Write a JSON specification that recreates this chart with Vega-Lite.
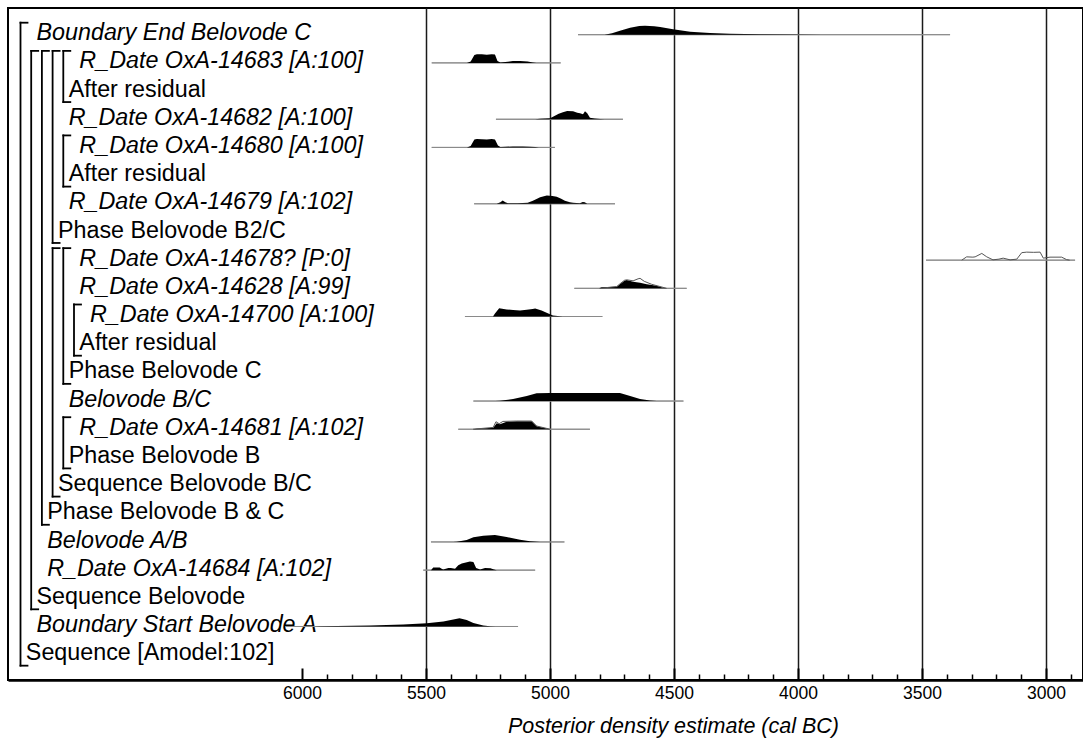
{
  "$schema": "https://vega.github.io/schema/vega-lite/v6.json",
  "width": 1075,
  "height": 672,
  "autosize": {"type": "none"},
  "padding": {"left": 8, "top": 8, "right": 0, "bottom": 62},
  "background": "white",
  "config": {"view": {"stroke": "black", "strokeWidth": 2}, "font": "Liberation Sans"},
  "datasets": {
    "labels": [
      {"n": 1, "t": 1, "label": "Boundary End Belovode C", "kind": "Boundary"},
      {"n": 2, "t": 5, "label": "R_Date OxA-14683 [A:100]", "kind": "R_Date"},
      {"n": 3, "t": 4, "label": "After residual", "kind": "After"},
      {"n": 4, "t": 4, "label": "R_Date OxA-14682 [A:100]", "kind": "R_Date"},
      {"n": 5, "t": 5, "label": "R_Date OxA-14680 [A:100]", "kind": "R_Date"},
      {"n": 6, "t": 4, "label": "After residual", "kind": "After"},
      {"n": 7, "t": 4, "label": "R_Date OxA-14679 [A:102]", "kind": "R_Date"},
      {"n": 8, "t": 3, "label": "Phase Belovode B2/C", "kind": "Phase"},
      {"n": 9, "t": 5, "label": "R_Date OxA-14678? [P:0]", "kind": "R_Date"},
      {"n": 10, "t": 5, "label": "R_Date OxA-14628 [A:99]", "kind": "R_Date"},
      {"n": 11, "t": 6, "label": "R_Date OxA-14700 [A:100]", "kind": "R_Date"},
      {"n": 12, "t": 5, "label": "After residual", "kind": "After"},
      {"n": 13, "t": 4, "label": "Phase Belovode C", "kind": "Phase"},
      {"n": 14, "t": 4, "label": "Belovode B/C", "kind": "Boundary"},
      {"n": 15, "t": 5, "label": "R_Date OxA-14681 [A:102]", "kind": "R_Date"},
      {"n": 16, "t": 4, "label": "Phase Belovode B", "kind": "Phase"},
      {"n": 17, "t": 3, "label": "Sequence Belovode B/C", "kind": "Sequence"},
      {"n": 18, "t": 2, "label": "Phase Belovode B & C", "kind": "Phase"},
      {"n": 19, "t": 2, "label": "Belovode A/B", "kind": "Boundary"},
      {"n": 20, "t": 2, "label": "R_Date OxA-14684 [A:102]", "kind": "R_Date"},
      {"n": 21, "t": 1, "label": "Sequence Belovode", "kind": "Sequence"},
      {"n": 22, "t": 1, "label": "Boundary Start Belovode A", "kind": "Boundary"},
      {"n": 23, "t": 0, "label": "Sequence [Amodel:102]", "kind": "Sequence"}
    ],
    "brackets": [
      {"L": 0, "first": 1, "last": 23},
      {"L": 1, "first": 2, "last": 21},
      {"L": 2, "first": 2, "last": 18},
      {"L": 3, "first": 2, "last": 8},
      {"L": 4, "first": 2, "last": 3},
      {"L": 4, "first": 5, "last": 6},
      {"L": 3, "first": 9, "last": 17},
      {"L": 4, "first": 9, "last": 13},
      {"L": 5, "first": 11, "last": 12},
      {"L": 4, "first": 15, "last": 16}
    ],
    "ranges": [
      {"n": 1, "from": 4887, "to": 3387},
      {"n": 2, "from": 5477, "to": 4957},
      {"n": 4, "from": 5218, "to": 4706},
      {"n": 5, "from": 5477, "to": 4980},
      {"n": 7, "from": 5306, "to": 4738},
      {"n": 9, "from": 3484, "to": 2883},
      {"n": 10, "from": 4902, "to": 4449},
      {"n": 11, "from": 5343, "to": 4789},
      {"n": 14, "from": 5309, "to": 4462},
      {"n": 15, "from": 5370, "to": 4839},
      {"n": 19, "from": 5480, "to": 4942},
      {"n": 20, "from": 5511, "to": 5060},
      {"n": 22, "from": 6065, "to": 5129}
    ],
    "post": [
      {"id": "E", "n": 1, "yr": 4780, "top": 1},
      {"id": "E", "n": 1, "yr": 4750, "top": 0.947},
      {"id": "E", "n": 1, "yr": 4718, "top": 0.858},
      {"id": "E", "n": 1, "yr": 4677, "top": 0.752},
      {"id": "E", "n": 1, "yr": 4640, "top": 0.691},
      {"id": "E", "n": 1, "yr": 4617, "top": 0.681},
      {"id": "E", "n": 1, "yr": 4580, "top": 0.698},
      {"id": "E", "n": 1, "yr": 4556, "top": 0.727},
      {"id": "E", "n": 1, "yr": 4504, "top": 0.805},
      {"id": "E", "n": 1, "yr": 4435, "top": 0.894},
      {"id": "E", "n": 1, "yr": 4355, "top": 0.936},
      {"id": "E", "n": 1, "yr": 4274, "top": 0.965},
      {"id": "E", "n": 1, "yr": 4153, "top": 0.986},
      {"id": "E", "n": 1, "yr": 3992, "top": 0.996},
      {"id": "E", "n": 1, "yr": 3900, "top": 1},
      {"id": "R83", "n": 2, "yr": 5335, "top": 2},
      {"id": "R83", "n": 2, "yr": 5320, "top": 1.947},
      {"id": "R83", "n": 2, "yr": 5305, "top": 1.716},
      {"id": "R83", "n": 2, "yr": 5295, "top": 1.691},
      {"id": "R83", "n": 2, "yr": 5275, "top": 1.698},
      {"id": "R83", "n": 2, "yr": 5255, "top": 1.709},
      {"id": "R83", "n": 2, "yr": 5235, "top": 1.698},
      {"id": "R83", "n": 2, "yr": 5222, "top": 1.705},
      {"id": "R83", "n": 2, "yr": 5212, "top": 1.929},
      {"id": "R83", "n": 2, "yr": 5200, "top": 1.989},
      {"id": "R83", "n": 2, "yr": 5180, "top": 1.972},
      {"id": "R83", "n": 2, "yr": 5150, "top": 1.936},
      {"id": "R83", "n": 2, "yr": 5120, "top": 1.929},
      {"id": "R83", "n": 2, "yr": 5090, "top": 1.947},
      {"id": "R83", "n": 2, "yr": 5070, "top": 1.986},
      {"id": "R83", "n": 2, "yr": 5055, "top": 2},
      {"id": "R82", "n": 4, "yr": 5060, "top": 4},
      {"id": "R82", "n": 4, "yr": 5040, "top": 3.982},
      {"id": "R82", "n": 4, "yr": 5000, "top": 3.965},
      {"id": "R82", "n": 4, "yr": 4988, "top": 3.911},
      {"id": "R82", "n": 4, "yr": 4965, "top": 3.805},
      {"id": "R82", "n": 4, "yr": 4948, "top": 3.752},
      {"id": "R82", "n": 4, "yr": 4931, "top": 3.705},
      {"id": "R82", "n": 4, "yr": 4907, "top": 3.716},
      {"id": "R82", "n": 4, "yr": 4890, "top": 3.769},
      {"id": "R82", "n": 4, "yr": 4879, "top": 3.787},
      {"id": "R82", "n": 4, "yr": 4867, "top": 3.823},
      {"id": "R82", "n": 4, "yr": 4859, "top": 3.716},
      {"id": "R82", "n": 4, "yr": 4850, "top": 3.787},
      {"id": "R82", "n": 4, "yr": 4839, "top": 3.947},
      {"id": "R82", "n": 4, "yr": 4820, "top": 3.972},
      {"id": "R82", "n": 4, "yr": 4798, "top": 3.989},
      {"id": "R82", "n": 4, "yr": 4780, "top": 4},
      {"id": "R80", "n": 5, "yr": 5335, "top": 5},
      {"id": "R80", "n": 5, "yr": 5320, "top": 4.947},
      {"id": "R80", "n": 5, "yr": 5305, "top": 4.716},
      {"id": "R80", "n": 5, "yr": 5295, "top": 4.705},
      {"id": "R80", "n": 5, "yr": 5275, "top": 4.709},
      {"id": "R80", "n": 5, "yr": 5255, "top": 4.716},
      {"id": "R80", "n": 5, "yr": 5235, "top": 4.705},
      {"id": "R80", "n": 5, "yr": 5222, "top": 4.716},
      {"id": "R80", "n": 5, "yr": 5210, "top": 4.929},
      {"id": "R80", "n": 5, "yr": 5200, "top": 4.989},
      {"id": "R80", "n": 5, "yr": 5180, "top": 4.979},
      {"id": "R80", "n": 5, "yr": 5150, "top": 4.965},
      {"id": "R80", "n": 5, "yr": 5110, "top": 4.965},
      {"id": "R80", "n": 5, "yr": 5080, "top": 4.972},
      {"id": "R80", "n": 5, "yr": 5060, "top": 4.989},
      {"id": "R80", "n": 5, "yr": 5045, "top": 5},
      {"id": "R79", "n": 7, "yr": 5215, "top": 7},
      {"id": "R79", "n": 7, "yr": 5200, "top": 6.947},
      {"id": "R79", "n": 7, "yr": 5191, "top": 6.883},
      {"id": "R79", "n": 7, "yr": 5180, "top": 6.947},
      {"id": "R79", "n": 7, "yr": 5170, "top": 6.982},
      {"id": "R79", "n": 7, "yr": 5130, "top": 6.982},
      {"id": "R79", "n": 7, "yr": 5090, "top": 6.965},
      {"id": "R79", "n": 7, "yr": 5069, "top": 6.894},
      {"id": "R79", "n": 7, "yr": 5040, "top": 6.769},
      {"id": "R79", "n": 7, "yr": 5013, "top": 6.705},
      {"id": "R79", "n": 7, "yr": 4990, "top": 6.723},
      {"id": "R79", "n": 7, "yr": 4973, "top": 6.752},
      {"id": "R79", "n": 7, "yr": 4955, "top": 6.823},
      {"id": "R79", "n": 7, "yr": 4940, "top": 6.894},
      {"id": "R79", "n": 7, "yr": 4920, "top": 6.947},
      {"id": "R79", "n": 7, "yr": 4907, "top": 6.965},
      {"id": "R79", "n": 7, "yr": 4880, "top": 6.982},
      {"id": "R79", "n": 7, "yr": 4868, "top": 6.936},
      {"id": "R79", "n": 7, "yr": 4860, "top": 6.947},
      {"id": "R79", "n": 7, "yr": 4850, "top": 7},
      {"id": "R28", "n": 10, "yr": 4800, "top": 10},
      {"id": "R28", "n": 10, "yr": 4792, "top": 9.965},
      {"id": "R28", "n": 10, "yr": 4731, "top": 9.947},
      {"id": "R28", "n": 10, "yr": 4718, "top": 9.858},
      {"id": "R28", "n": 10, "yr": 4700, "top": 9.734},
      {"id": "R28", "n": 10, "yr": 4691, "top": 9.705},
      {"id": "R28", "n": 10, "yr": 4665, "top": 9.769},
      {"id": "R28", "n": 10, "yr": 4637, "top": 9.805},
      {"id": "R28", "n": 10, "yr": 4610, "top": 9.858},
      {"id": "R28", "n": 10, "yr": 4570, "top": 9.911},
      {"id": "R28", "n": 10, "yr": 4544, "top": 9.982},
      {"id": "R28", "n": 10, "yr": 4530, "top": 10},
      {"id": "R00", "n": 11, "yr": 5230, "top": 11},
      {"id": "R00", "n": 11, "yr": 5222, "top": 10.894},
      {"id": "R00", "n": 11, "yr": 5205, "top": 10.705},
      {"id": "R00", "n": 11, "yr": 5175, "top": 10.752},
      {"id": "R00", "n": 11, "yr": 5149, "top": 10.769},
      {"id": "R00", "n": 11, "yr": 5121, "top": 10.787},
      {"id": "R00", "n": 11, "yr": 5094, "top": 10.762},
      {"id": "R00", "n": 11, "yr": 5070, "top": 10.734},
      {"id": "R00", "n": 11, "yr": 5060, "top": 10.716},
      {"id": "R00", "n": 11, "yr": 5034, "top": 10.787},
      {"id": "R00", "n": 11, "yr": 5007, "top": 10.894},
      {"id": "R00", "n": 11, "yr": 4988, "top": 10.965},
      {"id": "R00", "n": 11, "yr": 4960, "top": 10.989},
      {"id": "R00", "n": 11, "yr": 4948, "top": 11},
      {"id": "BC", "n": 14, "yr": 5220, "top": 14},
      {"id": "BC", "n": 14, "yr": 5202, "top": 13.989},
      {"id": "BC", "n": 14, "yr": 5149, "top": 13.929},
      {"id": "BC", "n": 14, "yr": 5094, "top": 13.823},
      {"id": "BC", "n": 14, "yr": 5054, "top": 13.727},
      {"id": "BC", "n": 14, "yr": 5000, "top": 13.716},
      {"id": "BC", "n": 14, "yr": 4850, "top": 13.716},
      {"id": "BC", "n": 14, "yr": 4718, "top": 13.716},
      {"id": "BC", "n": 14, "yr": 4677, "top": 13.823},
      {"id": "BC", "n": 14, "yr": 4637, "top": 13.929},
      {"id": "BC", "n": 14, "yr": 4597, "top": 13.982},
      {"id": "BC", "n": 14, "yr": 4570, "top": 14},
      {"id": "R81", "n": 15, "yr": 5310, "top": 15},
      {"id": "R81", "n": 15, "yr": 5296, "top": 14.982},
      {"id": "R81", "n": 15, "yr": 5229, "top": 14.947},
      {"id": "R81", "n": 15, "yr": 5215, "top": 14.787},
      {"id": "R81", "n": 15, "yr": 5202, "top": 14.823},
      {"id": "R81", "n": 15, "yr": 5175, "top": 14.734},
      {"id": "R81", "n": 15, "yr": 5134, "top": 14.716},
      {"id": "R81", "n": 15, "yr": 5074, "top": 14.716},
      {"id": "R81", "n": 15, "yr": 5054, "top": 14.894},
      {"id": "R81", "n": 15, "yr": 5013, "top": 14.975},
      {"id": "R81", "n": 15, "yr": 5000, "top": 15},
      {"id": "AB", "n": 19, "yr": 5390, "top": 19},
      {"id": "AB", "n": 19, "yr": 5376, "top": 18.989},
      {"id": "AB", "n": 19, "yr": 5336, "top": 18.929},
      {"id": "AB", "n": 19, "yr": 5309, "top": 18.833},
      {"id": "AB", "n": 19, "yr": 5269, "top": 18.776},
      {"id": "AB", "n": 19, "yr": 5222, "top": 18.752},
      {"id": "AB", "n": 19, "yr": 5175, "top": 18.823},
      {"id": "AB", "n": 19, "yr": 5121, "top": 18.918},
      {"id": "AB", "n": 19, "yr": 5081, "top": 18.975},
      {"id": "AB", "n": 19, "yr": 5054, "top": 18.993},
      {"id": "AB", "n": 19, "yr": 5040, "top": 19},
      {"id": "R84", "n": 20, "yr": 5480, "top": 20},
      {"id": "R84", "n": 20, "yr": 5471, "top": 19.904},
      {"id": "R84", "n": 20, "yr": 5445, "top": 19.904},
      {"id": "R84", "n": 20, "yr": 5437, "top": 19.947},
      {"id": "R84", "n": 20, "yr": 5431, "top": 19.975},
      {"id": "R84", "n": 20, "yr": 5420, "top": 19.947},
      {"id": "R84", "n": 20, "yr": 5410, "top": 19.929},
      {"id": "R84", "n": 20, "yr": 5400, "top": 19.929},
      {"id": "R84", "n": 20, "yr": 5383, "top": 19.947},
      {"id": "R84", "n": 20, "yr": 5370, "top": 19.823},
      {"id": "R84", "n": 20, "yr": 5356, "top": 19.762},
      {"id": "R84", "n": 20, "yr": 5323, "top": 19.691},
      {"id": "R84", "n": 20, "yr": 5309, "top": 19.716},
      {"id": "R84", "n": 20, "yr": 5298, "top": 19.929},
      {"id": "R84", "n": 20, "yr": 5282, "top": 19.975},
      {"id": "R84", "n": 20, "yr": 5262, "top": 19.929},
      {"id": "R84", "n": 20, "yr": 5240, "top": 19.936},
      {"id": "R84", "n": 20, "yr": 5229, "top": 19.965},
      {"id": "R84", "n": 20, "yr": 5215, "top": 20},
      {"id": "S", "n": 22, "yr": 5950, "top": 22},
      {"id": "S", "n": 22, "yr": 5927, "top": 21.989},
      {"id": "S", "n": 22, "yr": 5726, "top": 21.965},
      {"id": "S", "n": 22, "yr": 5592, "top": 21.929},
      {"id": "S", "n": 22, "yr": 5497, "top": 21.883},
      {"id": "S", "n": 22, "yr": 5430, "top": 21.823},
      {"id": "S", "n": 22, "yr": 5390, "top": 21.752},
      {"id": "S", "n": 22, "yr": 5365, "top": 21.705},
      {"id": "S", "n": 22, "yr": 5336, "top": 21.769},
      {"id": "S", "n": 22, "yr": 5309, "top": 21.876},
      {"id": "S", "n": 22, "yr": 5269, "top": 21.965},
      {"id": "S", "n": 22, "yr": 5242, "top": 21.989},
      {"id": "S", "n": 22, "yr": 5220, "top": 22}
    ],
    "lik": [
      {"id": "R78", "n": 9, "yr": 3340, "top": 9},
      {"id": "R78", "n": 9, "yr": 3320, "top": 8.883},
      {"id": "R78", "n": 9, "yr": 3295, "top": 8.894},
      {"id": "R78", "n": 9, "yr": 3286, "top": 8.883},
      {"id": "R78", "n": 9, "yr": 3259, "top": 8.762},
      {"id": "R78", "n": 9, "yr": 3239, "top": 8.883},
      {"id": "R78", "n": 9, "yr": 3214, "top": 8.989},
      {"id": "R78", "n": 9, "yr": 3190, "top": 8.965},
      {"id": "R78", "n": 9, "yr": 3173, "top": 8.929},
      {"id": "R78", "n": 9, "yr": 3145, "top": 8.989},
      {"id": "R78", "n": 9, "yr": 3118, "top": 8.965},
      {"id": "R78", "n": 9, "yr": 3098, "top": 8.734},
      {"id": "R78", "n": 9, "yr": 3078, "top": 8.716},
      {"id": "R78", "n": 9, "yr": 3050, "top": 8.723},
      {"id": "R78", "n": 9, "yr": 3024, "top": 8.716},
      {"id": "R78", "n": 9, "yr": 3011, "top": 8.929},
      {"id": "R78", "n": 9, "yr": 2984, "top": 8.894},
      {"id": "R78", "n": 9, "yr": 2937, "top": 8.894},
      {"id": "R78", "n": 9, "yr": 2917, "top": 8.982},
      {"id": "R78", "n": 9, "yr": 2905, "top": 9},
      {"id": "R28", "n": 10, "yr": 4800, "top": 10},
      {"id": "R28", "n": 10, "yr": 4731, "top": 9.936},
      {"id": "R28", "n": 10, "yr": 4718, "top": 9.84},
      {"id": "R28", "n": 10, "yr": 4700, "top": 9.716},
      {"id": "R28", "n": 10, "yr": 4691, "top": 9.698},
      {"id": "R28", "n": 10, "yr": 4665, "top": 9.734},
      {"id": "R28", "n": 10, "yr": 4645, "top": 9.663},
      {"id": "R28", "n": 10, "yr": 4637, "top": 9.645},
      {"id": "R28", "n": 10, "yr": 4620, "top": 9.752},
      {"id": "R28", "n": 10, "yr": 4590, "top": 9.858},
      {"id": "R28", "n": 10, "yr": 4560, "top": 9.929},
      {"id": "R28", "n": 10, "yr": 4530, "top": 10},
      {"id": "R81", "n": 15, "yr": 5310, "top": 15},
      {"id": "R81", "n": 15, "yr": 5229, "top": 14.936},
      {"id": "R81", "n": 15, "yr": 5218, "top": 14.734},
      {"id": "R81", "n": 15, "yr": 5205, "top": 14.805},
      {"id": "R81", "n": 15, "yr": 5190, "top": 14.723},
      {"id": "R81", "n": 15, "yr": 5134, "top": 14.709},
      {"id": "R81", "n": 15, "yr": 5074, "top": 14.709},
      {"id": "R81", "n": 15, "yr": 5054, "top": 14.886},
      {"id": "R81", "n": 15, "yr": 5013, "top": 14.972},
      {"id": "R81", "n": 15, "yr": 5000, "top": 15}
    ]
  },
  "resolve": {"scale": {"x": "independent"}},
  "layer": [
    {
      "data": {"name": "ranges"},
      "mark": {"type": "rule", "color": "#8a8a8a", "strokeWidth": 1},
      "encoding": {
        "x": {
          "field": "from", "type": "quantitative",
          "scale": {"domain": [2851, 7185.5], "reverse": true, "nice": false, "zero": false},
          "axis": {
            "orient": "bottom",
            "values": [6000, 5500, 5000, 4500, 4000, 3500, 3000],
            "format": "d",
            "grid": true,
            "gridColor": "#1a1a1a",
            "gridWidth": 1.5,
            "gridOpacity": {"condition": {"test": "datum.value == 6000", "value": 0}, "value": 1},
            "domain": true,
            "domainColor": "black",
            "domainWidth": 2.5,
            "ticks": true,
            "tickSize": -12,
            "tickColor": "black",
            "tickWidth": 2,
            "labelFont": "Liberation Sans",
            "labelFontSize": 17.5,
            "labelColor": "black",
            "labelPadding": 16,
            "labelFlush": false,
            "labelOverlap": false,
            "title": "Posterior density estimate (cal BC)",
            "titleFont": "Liberation Sans",
            "titleFontSize": 21.5,
            "titleFontStyle": "italic",
            "titleFontWeight": "normal",
            "titleColor": "black",
            "titleAlign": "center",
            "titleBaseline": "alphabetic",
            "titleX": 665,
            "titleY": 52
          }
        },
        "x2": {"field": "to"},
        "y": {"field": "n", "type": "quantitative", "scale": {"domain": [0.0525, 23.899], "reverse": true, "nice": false, "zero": false}, "axis": null}
      }
    },
    {
      "data": {"name": "labels"},
      "transform": [{"filter": "datum.kind == 'R_Date' || datum.kind == 'Boundary'"}],
      "mark": {"type": "text", "align": "left", "baseline": "alphabetic", "dx": 5.35, "dy": 5.6, "fontSize": 23.3, "fontStyle": "italic", "font": "Liberation Sans", "color": "black"},
      "encoding": {
        "x": {"field": "t", "type": "quantitative", "scale": {"domain": [-1.1682, 99.299], "nice": false, "zero": false}, "axis": null},
        "y": {"field": "n", "type": "quantitative", "scale": {"domain": [0.0525, 23.899], "reverse": true, "nice": false, "zero": false}, "axis": null},
        "text": {"field": "label"}
      }
    },
    {
      "data": {"name": "labels"},
      "transform": [{"filter": "datum.kind != 'R_Date' && datum.kind != 'Boundary'"}],
      "mark": {"type": "text", "align": "left", "baseline": "alphabetic", "dx": 5.35, "dy": 5.6, "fontSize": 23.3, "fontStyle": "normal", "font": "Liberation Sans", "color": "black"},
      "encoding": {
        "x": {"field": "t", "type": "quantitative", "scale": {"domain": [-1.1682, 99.299], "nice": false, "zero": false}, "axis": null},
        "y": {"field": "n", "type": "quantitative", "scale": {"domain": [0.0525, 23.899], "reverse": true, "nice": false, "zero": false}, "axis": null},
        "text": {"field": "label"}
      }
    },
    {
      "data": {"name": "brackets"},
      "mark": {"type": "rule", "color": "black", "strokeWidth": 1.8, "strokeCap": "square", "yOffset": -12, "y2Offset": 11},
      "encoding": {
        "x": {"field": "L", "type": "quantitative", "scale": {"domain": [-1.1682, 99.299], "nice": false, "zero": false}, "axis": null},
        "y": {"field": "first", "type": "quantitative", "scale": {"domain": [0.0525, 23.899], "reverse": true, "nice": false, "zero": false}, "axis": null},
        "y2": {"field": "last"}
      }
    },
    {
      "data": {"name": "brackets"},
      "mark": {"type": "rule", "color": "black", "strokeWidth": 1.8, "strokeCap": "square", "yOffset": -12, "x2Offset": 7},
      "encoding": {
        "x": {"field": "L", "type": "quantitative", "scale": {"domain": [-1.1682, 99.299], "nice": false, "zero": false}, "axis": null},
        "x2": {"field": "L"},
        "y": {"field": "first", "type": "quantitative", "scale": {"domain": [0.0525, 23.899], "reverse": true, "nice": false, "zero": false}, "axis": null}
      }
    },
    {
      "data": {"name": "brackets"},
      "mark": {"type": "rule", "color": "black", "strokeWidth": 1.8, "strokeCap": "square", "yOffset": 11, "x2Offset": 7},
      "encoding": {
        "x": {"field": "L", "type": "quantitative", "scale": {"domain": [-1.1682, 99.299], "nice": false, "zero": false}, "axis": null},
        "x2": {"field": "L"},
        "y": {"field": "last", "type": "quantitative", "scale": {"domain": [0.0525, 23.899], "reverse": true, "nice": false, "zero": false}, "axis": null}
      }
    },
    {
      "data": {"name": "ranges"},
      "mark": {"type": "rule", "color": "#8a8a8a", "strokeWidth": 1},
      "encoding": {
        "x": {"field": "from", "type": "quantitative", "scale": {"domain": [2851, 7185.5], "reverse": true, "nice": false, "zero": false}, "axis": null},
        "x2": {"field": "to"},
        "y": {"field": "n", "type": "quantitative", "scale": {"domain": [0.0525, 23.899], "reverse": true, "nice": false, "zero": false}, "axis": null}
      }
    },
    {
      "data": {"name": "post"},
      "mark": {"type": "area", "color": "black", "opacity": 1},
      "encoding": {
        "x": {
          "field": "yr", "type": "quantitative",
          "scale": {"domain": [2851, 7185.5], "reverse": true, "nice": false, "zero": false},
          "axis": {
            "orient": "top",
            "offset": -672,
            "values": [5900, 5800, 5700, 5600, 5400, 5300, 5200, 5100, 4900, 4800, 4700, 4600, 4400, 4300, 4200, 4100, 3900, 3800, 3700, 3600, 3400, 3300, 3200, 3100, 2900],
            "grid": false,
            "domain": false,
            "labels": false,
            "ticks": true,
            "tickSize": 6,
            "tickColor": "black",
            "tickWidth": 1.5,
            "title": null
          }
        },
        "y": {"field": "top", "type": "quantitative", "scale": {"domain": [0.0525, 23.899], "reverse": true, "nice": false, "zero": false}, "axis": null},
        "y2": {"field": "n"},
        "detail": {"field": "id"}
      }
    },
    {
      "data": {"name": "lik"},
      "mark": {"type": "line", "color": "#555555", "strokeWidth": 1},
      "encoding": {
        "x": {"field": "yr", "type": "quantitative", "scale": {"domain": [2851, 7185.5], "reverse": true, "nice": false, "zero": false}, "axis": null},
        "y": {"field": "top", "type": "quantitative", "scale": {"domain": [0.0525, 23.899], "reverse": true, "nice": false, "zero": false}, "axis": null},
        "detail": {"field": "id"}
      }
    }
  ]
}
